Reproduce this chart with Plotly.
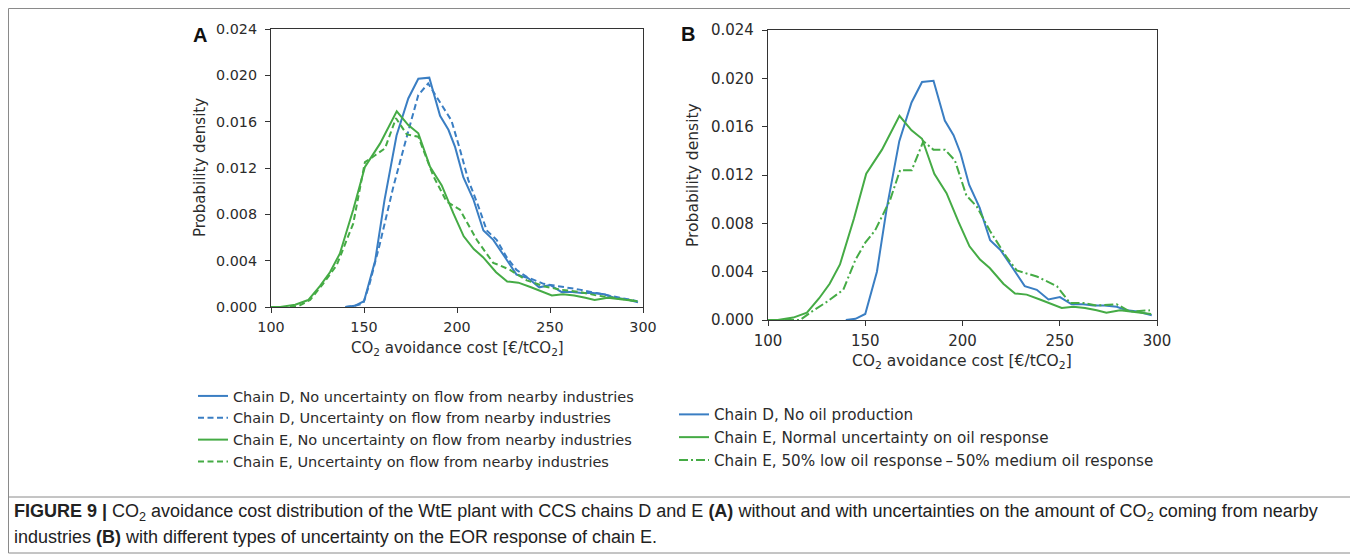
import plotly.graph_objects as go

# ---------------- data ----------------
# Chain D, no uncertainty / no oil production (same series in A and B)
d_base_x = [140, 145, 150, 156, 161, 167.5, 173.8, 179.2, 185.1, 190.9, 195.4, 199, 203.4, 208.8,
            214.2, 219.5, 225.8, 232, 238.2, 244.2, 250.1, 256.1, 262, 267.3, 273, 279.3, 284.4,
            290, 297.3]
d_base_y = [0.0, 0.0001, 0.0005, 0.0040, 0.0092, 0.0148, 0.0180, 0.0197, 0.0198, 0.0165, 0.0153,
            0.0138, 0.0112, 0.0093, 0.0066, 0.0058, 0.0043, 0.0028, 0.0025, 0.0017, 0.0019, 0.0013,
            0.0013, 0.0012, 0.0012, 0.0011, 0.0008, 0.0007, 0.0004]

# Chain D, uncertainty on flow from nearby industries (A)
d_unc_x = [140, 145, 149.6, 153, 158.6, 165.8, 173, 179.2, 184.5, 190, 197, 201.6, 206, 211.5,
           216, 221.3, 226.7, 232, 237.5, 246.5, 255.4, 266, 275, 285, 297]
d_unc_y = [0.0, 0.0001, 0.0003, 0.0020, 0.0055, 0.0104, 0.0147, 0.0183, 0.0193, 0.0179, 0.0161,
           0.0136, 0.0110, 0.0087, 0.0066, 0.0058, 0.0043, 0.0032, 0.0026, 0.0020, 0.0018, 0.0015,
           0.0012, 0.0009, 0.0005]

# Chain E, no uncertainty / normal uncertainty on oil response (same series in A and B)
e_base_x = [100, 105, 113, 120, 126.3, 131.7, 137, 144.2, 150.5, 158.6, 167.6, 173.8, 179.2,
            185.5, 191.8, 198, 203.6, 209, 214, 221, 227, 233, 239.8, 245, 251, 257, 263, 269,
            274, 281, 291, 297]
e_base_y = [0.0, 0.0, 0.0002, 0.0006, 0.0018, 0.0030, 0.0046, 0.0084, 0.0121, 0.0141, 0.0169,
            0.0157, 0.0150, 0.0121, 0.0105, 0.0081, 0.0061, 0.0050, 0.0043, 0.0030, 0.0022, 0.0021,
            0.0017, 0.0014, 0.0010, 0.0011, 0.0010, 0.0008, 0.0006, 0.0008, 0.0006, 0.0005]

# Chain E, uncertainty on flow from nearby industries (A)
e_unc_x = [100, 110, 115, 121, 128, 135.3, 144.2, 150.5, 156, 161.3, 167.2, 173, 179.2, 187.3,
           194.4, 201.6, 210.6, 219.5, 223, 228.5, 237.5, 246.5, 255.4, 266, 275, 285, 297]
e_unc_y = [0.0, 0.0, 0.0001, 0.0006, 0.0020, 0.0036, 0.0072, 0.0125, 0.0131, 0.0137, 0.0163,
           0.0149, 0.0147, 0.0113, 0.0091, 0.0084, 0.0058, 0.0038, 0.0036, 0.0032, 0.0023, 0.0018,
           0.0015, 0.0013, 0.0010, 0.0008, 0.0005]

# Chain E, 50% low oil response - 50% medium oil response (B)
e_mix_x = [100, 110, 116.5, 122.5, 130.2, 138.7, 145, 150, 155, 162.7, 167.9, 173.9, 179.9, 185,
           191, 196.1, 202, 207.3, 214, 222.7, 227.9, 238.2, 248.5, 255.3, 262.1, 269, 279.3,
           286.1, 296.4]
e_mix_y = [0.0, 0.0, 0.0, 0.0007, 0.0015, 0.0025, 0.0050, 0.0064, 0.0074, 0.0099, 0.0124, 0.0124,
           0.0148, 0.0141, 0.0141, 0.0132, 0.0103, 0.0094, 0.0074, 0.0052, 0.0041, 0.0036, 0.0028,
           0.0014, 0.0014, 0.0012, 0.0013, 0.0007, 0.0008]

legend_a = ["Chain D, No uncertainty on flow from nearby industries",
            "Chain D, Uncertainty on flow from nearby industries",
            "Chain E, No uncertainty on flow from nearby industries",
            "Chain E, Uncertainty on flow from nearby industries"]
legend_b = ["Chain D, No oil production",
            "Chain E, Normal uncertainty on oil response",
            "Chain E, 50% low oil response\u2009\u2013\u200950% medium oil response"]

x_ticks = [100, 150, 200, 250, 300]
y_ticks = [0.000, 0.004, 0.008, 0.012, 0.016, 0.020, 0.024]

# ---------------- styling ----------------
BLUE = "#3a7ec3"
GREEN = "#45ab45"
TXT = "#2b2b2b"
FONT = "DejaVu Sans"
LW = 2

# The page body has an 8px margin: the figure is sized to fit inside the window,
# and positions below are given in window pixels, converted to paper fractions.
OFF = 8
W, H = 1350, 548


def px(x):
    return (x - OFF) / W


def py(y):
    return 1 - (y - OFF) / H


fig = go.Figure()

series_a = [
    (d_base_x, d_base_y, BLUE, "solid"),
    (d_unc_x, d_unc_y, BLUE, "6px,3.5px"),
    (e_base_x, e_base_y, GREEN, "solid"),
    (e_unc_x, e_unc_y, GREEN, "6px,3.5px"),
]
for (xs, ys, col, dash), name in zip(series_a, legend_a):
    fig.add_trace(go.Scatter(x=xs, y=ys, mode="lines", name=name,
                             line=dict(color=col, width=LW, dash=dash),
                             xaxis="x", yaxis="y", legend="legend"))

series_b = [
    (d_base_x, d_base_y, BLUE, "solid"),
    (e_base_x, e_base_y, GREEN, "solid"),
    (e_mix_x, e_mix_y, GREEN, "9px,3px,2px,3px"),
]
for (xs, ys, col, dash), name in zip(series_b, legend_b):
    fig.add_trace(go.Scatter(x=xs, y=ys, mode="lines", name=name,
                             line=dict(color=col, width=LW, dash=dash),
                             xaxis="x2", yaxis="y2", legend="legend2"))


def axis_style(fs, standoff):
    return dict(showline=True, linecolor="#333333", linewidth=1.3, mirror=True,
                ticks="outside", ticklen=5, tickwidth=1.3, tickcolor="#333333",
                showgrid=False, zeroline=False, automargin=False,
                ticklabelstandoff=standoff,
                tickfont=dict(family=FONT, size=fs, color=TXT))


fig.update_layout(
    width=W, height=H, autosize=False,
    margin=dict(l=0, r=0, t=0, b=0, pad=0, autoexpand=False),
    paper_bgcolor="white", plot_bgcolor="white",
    font=dict(family=FONT, color=TXT),
    xaxis=dict(domain=[px(271), px(643)], range=[100, 300], tickvals=x_ticks,
               anchor="y", **axis_style(14.3, 2)),
    yaxis=dict(domain=[py(307), py(29)], range=[0, 0.024], tickvals=y_ticks,
               tickformat=".3f", anchor="x", **axis_style(14.3, 5)),
    xaxis2=dict(domain=[px(768), px(1157)], range=[100, 300], tickvals=x_ticks,
                anchor="y2", **axis_style(15, 2)),
    yaxis2=dict(domain=[py(320), py(30)], range=[0, 0.024], tickvals=y_ticks,
                tickformat=".3f", anchor="x2", **axis_style(15, 5)),
    legend=dict(x=px(193), y=py(380), xanchor="left", yanchor="top",
                bgcolor="rgba(0,0,0,0)", font=dict(family=FONT, size=14.5, color=TXT),
                tracegroupgap=0, itemwidth=30),
    legend2=dict(x=px(674), y=py(398), xanchor="left", yanchor="top",
                 bgcolor="rgba(0,0,0,0)", font=dict(family=FONT, size=15.2, color=TXT),
                 tracegroupgap=0, itemwidth=30),
    showlegend=True,
)

ann = []
# axis titles
for cx, cy, fs in [(200, 168, 15), (693, 175, 15.5)]:
    ann.append(dict(text="Probability density", x=px(cx), y=py(cy), xref="paper", yref="paper",
                    textangle=-90, showarrow=False, xanchor="center", yanchor="middle",
                    font=dict(family=FONT, size=fs, color=TXT)))
for cx, cy, fs in [(457, 348, 15), (962, 362, 15.5)]:
    ann.append(dict(text="CO<sub>2</sub> avoidance cost [\u20ac/tCO<sub>2</sub>]",
                    x=px(cx), y=py(cy), xref="paper", yref="paper", showarrow=False,
                    xanchor="center", yanchor="middle",
                    font=dict(family=FONT, size=fs, color=TXT)))
# panel letters
for letter, cx, cy in [("A", 200, 35), ("B", 688, 34)]:
    ann.append(dict(text="<b>%s</b>" % letter, x=px(cx), y=py(cy), xref="paper", yref="paper",
                    showarrow=False, xanchor="center", yanchor="middle",
                    font=dict(family="Liberation Sans", size=20, color="#111111")))
# caption
cap1 = ("<b>FIGURE 9 |</b> CO<sub>2</sub> avoidance cost distribution of the WtE plant with CCS "
        "chains D and E <b>(A)</b> without and with uncertainties on the amount of CO<sub>2</sub> "
        "coming from nearby")
cap2 = ("industries <b>(B)</b> with different types of uncertainty on the EOR response of chain E.")
for text, cy in [(cap1, 512), (cap2, 537)]:
    ann.append(dict(text=text, x=px(12), y=py(cy), xref="paper", yref="paper", showarrow=False,
                    xanchor="left", yanchor="middle",
                    font=dict(family="Liberation Sans", size=18, color="#222222")))
fig.update_layout(annotations=ann)

# frame around figure and caption
fig.update_layout(shapes=[
    dict(type="rect", xref="paper", yref="paper", x0=px(8.5), x1=px(1355), y0=py(553),
         y1=py(8.5), line=dict(color="#8a8a8a", width=1)),
    dict(type="line", xref="paper", yref="paper", x0=px(8.5), x1=px(1355), y0=py(497),
         y1=py(497), line=dict(color="#8a8a8a", width=1)),
])

fig.write_html("out.html")
